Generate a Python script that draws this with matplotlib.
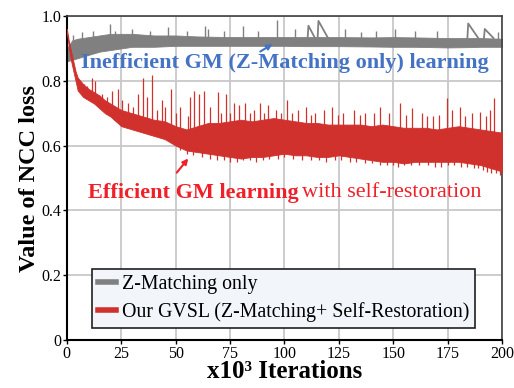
import matplotlib
matplotlib.use("Agg")
import matplotlib.pyplot as plt
from matplotlib.lines import Line2D
import numpy as np

plt.rcParams['font.family'] = ['Liberation Serif', 'DejaVu Serif']

# ---- data (x in 10^3 iterations) ----
# Z-Matching only: core band of the noisy loss curve
gray_x = [0, 2.5, 5, 10, 15, 20, 25, 30, 40, 50, 60, 75, 90, 100, 110, 125,
          140, 150, 160, 175, 185, 190, 200]
gray_lo = [0.86, 0.865, 0.87, 0.88, 0.89, 0.895, 0.90, 0.905, 0.905, 0.908, 0.908,
           0.908, 0.908, 0.908, 0.907, 0.907, 0.906, 0.905, 0.905, 0.903, 0.904,
           0.905, 0.905]
gray_hi = [0.90, 0.925, 0.93, 0.935, 0.94, 0.945, 0.945, 0.945, 0.94, 0.94, 0.937,
           0.935, 0.935, 0.935, 0.935, 0.935, 0.934, 0.935, 0.934, 0.932, 0.932,
           0.932, 0.93]
# sharp peaks above the band
gray_spike_x = [3, 7, 12, 20, 22, 30, 38, 46.7, 55, 63.3, 65, 72, 81, 88, 96.5,
                105, 128, 135, 142, 150.8, 160, 170, 198]
gray_spike_y = [0.94, 0.95, 0.955, 0.975, 0.955, 0.96, 0.955, 0.967, 0.955, 0.97,
                0.96, 0.955, 0.97, 0.955, 0.988, 0.96, 0.96, 0.952,
                0.955, 0.96, 0.955, 0.953, 0.95]
# peaks that relax slowly back to the band (start x, peak, end x)
gray_tail_x0 = [111, 115.6, 184.4, 192]
gray_tail_y0 = [0.97, 0.985, 0.977, 0.96]
gray_tail_x1 = [114, 120, 189, 196]

# GVSL (Z-Matching + Self-Restoration): core band
red_x = [0, 1, 2, 3, 4, 5, 7.5, 10, 12.5, 15, 17.5, 20, 25, 30, 35, 40, 45, 50,
         55, 60, 65, 70, 75, 80, 85, 90, 95, 100, 105, 110, 115, 120, 125, 130,
         135, 140, 145, 150, 155, 160, 165, 170, 175, 180, 185, 190, 195, 200]
red_lo = [0.95, 0.90, 0.86, 0.83, 0.80, 0.77, 0.75, 0.74, 0.73, 0.715, 0.70, 0.69,
          0.66, 0.65, 0.64, 0.63, 0.62, 0.60, 0.585, 0.58, 0.575, 0.57, 0.565,
          0.56, 0.565, 0.565, 0.57, 0.575, 0.57, 0.57, 0.565, 0.565, 0.57, 0.565,
          0.56, 0.555, 0.55, 0.55, 0.545, 0.55, 0.55, 0.55, 0.55, 0.55, 0.545,
          0.54, 0.53, 0.52]
red_hi = [0.96, 0.92, 0.89, 0.86, 0.83, 0.81, 0.79, 0.775, 0.765, 0.755, 0.74, 0.73,
          0.71, 0.70, 0.69, 0.68, 0.675, 0.66, 0.65, 0.66, 0.67, 0.67, 0.675, 0.68,
          0.675, 0.68, 0.685, 0.68, 0.675, 0.67, 0.67, 0.665, 0.665, 0.665, 0.665,
          0.66, 0.665, 0.66, 0.655, 0.655, 0.655, 0.65, 0.655, 0.66, 0.655, 0.65,
          0.645, 0.64]
red_spike_x = [6, 8, 9.5, 11.5, 13, 16, 18.5, 20.7, 23.4, 25.2, 28, 30.5, 32.6,
               35.2, 37, 39, 41.5, 43.7, 45, 47.9, 50, 52, 55.5, 56.6, 58.2, 60.5,
               63, 66, 69.5, 71, 73, 75, 77, 79, 82, 84, 86, 88.7, 90.5, 92.4, 96,
               98.5, 101, 103.5, 106, 110, 112, 114, 118, 122, 124.5, 127, 132, 134.5,
               137, 141, 144, 148, 153, 156, 158.6, 163, 165.5, 168, 171, 174.6, 177,
               180.7, 183, 186, 190, 192.5, 194.5, 196.3, 200]
red_spike_y = [0.80, 0.79, 0.785, 0.81, 0.80, 0.76, 0.75, 0.77, 0.775, 0.74, 0.73,
               0.72, 0.76, 0.81, 0.75, 0.818, 0.71, 0.74, 0.72, 0.775, 0.70, 0.72,
               0.69, 0.75, 0.77, 0.76, 0.77, 0.72, 0.766, 0.70, 0.76, 0.70, 0.73,
               0.725, 0.73, 0.70, 0.71, 0.73, 0.70, 0.725, 0.71, 0.70, 0.74, 0.70,
               0.71, 0.72, 0.695, 0.70, 0.71, 0.72, 0.695, 0.70, 0.71, 0.695, 0.70,
               0.70, 0.72, 0.70, 0.73, 0.695, 0.715, 0.70, 0.69, 0.69, 0.695, 0.746,
               0.71, 0.72, 0.69, 0.70, 0.705, 0.69, 0.71, 0.746, 0.70]
red_dip_x = [52, 55, 58, 62, 66, 69, 72, 75, 78, 81, 84, 87, 90, 93, 97, 100, 104,
             108, 112, 116, 119, 123, 126, 130, 133, 137, 140, 144, 147, 150, 152,
             155, 158, 162, 166, 169, 172, 175, 178, 181, 184, 187, 189, 191, 193,
             195, 197, 199]
red_dip_y = [0.585, 0.575, 0.57, 0.565, 0.56, 0.555, 0.555, 0.55, 0.55, 0.555,
             0.555, 0.55, 0.555, 0.56, 0.56, 0.565, 0.56, 0.555, 0.555, 0.555, 0.55,
             0.555, 0.555, 0.55, 0.55, 0.545, 0.545, 0.54, 0.54, 0.54, 0.535, 0.54,
             0.54, 0.54, 0.54, 0.535, 0.535, 0.54, 0.54, 0.535, 0.535, 0.53, 0.53,
             0.525, 0.52, 0.515, 0.515, 0.51]

x_ticks = [0, 25, 50, 75, 100, 125, 150, 175, 200]
y_ticks = [0, 0.2, 0.4, 0.6, 0.8, 1.0]
y_ticklabels = ['0', '0.2', '0.4', '0.6', '0.8', '1.0']

GRAY = '#808080'
RED = '#d0312d'
BLUE = '#4472c4'
TXT_RED = '#f0202a'

fig = plt.figure(figsize=(5.14, 3.88), dpi=100)
ax = fig.add_axes([0.130, 0.1237, 0.847, 0.835])

# gray curve
ax.fill_between(gray_x, gray_lo, gray_hi, color=GRAY, lw=0.6, zorder=2)
gbase = np.interp(gray_spike_x, gray_x, gray_hi) - 0.005
ax.vlines(gray_spike_x, gbase, gray_spike_y, color=GRAY, lw=1.0, zorder=2)
for x0, y0, x1 in zip(gray_tail_x0, gray_tail_y0, gray_tail_x1):
    ax.plot([x0 - 0.4, x0, x1], [0.93, y0, 0.932], color=GRAY, lw=1.3, zorder=2)

# red curve
ax.fill_between(red_x, red_lo, red_hi, color=RED, lw=0.6, zorder=3)
rtop = np.interp(red_spike_x, red_x, red_hi) - 0.01
ax.vlines(red_spike_x, rtop, red_spike_y, color=RED, lw=0.9, zorder=3)
rbot = np.interp(red_dip_x, red_x, red_lo) + 0.01
ax.vlines(red_dip_x, rbot, red_dip_y, color=RED, lw=0.9, zorder=3)

ax.set_xlim(0, 200)
ax.set_ylim(0, 1.0)
ax.set_xticks(x_ticks)
ax.set_yticks(y_ticks)
ax.set_yticklabels(y_ticklabels)
ax.tick_params(labelsize=11.5, length=3, width=1, pad=1)
ax.grid(True, color='#c8c8c8', lw=1.3)
ax.set_axisbelow(True)
for side in ['left', 'bottom']:
    ax.spines[side].set_linewidth(1.5)
    ax.spines[side].set_color('black')
for side in ['top', 'right']:
    ax.spines[side].set_linewidth(1.2)
    ax.spines[side].set_color('#404040')

ax.set_ylabel('Value of NCC loss', fontsize=17.5, fontweight='bold', labelpad=1)
ax.set_xlabel('x10³ Iterations', fontsize=18, fontweight='bold', labelpad=-1)

# annotations
ax.text(100, 0.855, 'Inefficient GM (Z-Matching only) learning', color=BLUE,
        fontsize=16, fontweight='bold', ha='center', va='center', zorder=5)
ax.annotate('', xy=(95.6, 0.918), xytext=(87.8, 0.886),
            arrowprops=dict(arrowstyle='-|>', color=BLUE, lw=1.5,
                            mutation_scale=8), zorder=5)
t1 = ax.text(9.8, 0.455, 'Efficient GM learning', color=TXT_RED, fontsize=16,
             fontweight='bold', ha='left', va='center', zorder=5)
fig.canvas.draw()
bb = t1.get_window_extent().transformed(ax.transData.inverted())
ax.text(bb.x1 + 1.5, 0.455, 'with self-restoration', color=TXT_RED, fontsize=16,
        ha='left', va='center', zorder=5)
ax.annotate('', xy=(56.6, 0.567), xytext=(49.7, 0.51),
            arrowprops=dict(arrowstyle='-|>', color=TXT_RED, lw=1.5,
                            mutation_scale=8), zorder=5)

handles = [Line2D([], [], color=GRAY, lw=4), Line2D([], [], color=RED, lw=4)]
leg = ax.legend(handles, ['Z-Matching only', 'Our GVSL (Z-Matching+ Self-Restoration)'],
                loc='lower left', bbox_to_anchor=(0.0575, 0.037), borderaxespad=0,
                fontsize=14.3, handlelength=0.9, handletextpad=0.3,
                labelspacing=0.4, borderpad=0.3, fancybox=False, framealpha=1)
leg.get_frame().set_facecolor('#f2f6fb')
leg.get_frame().set_edgecolor('#202020')
leg.get_frame().set_linewidth(1.2)

fig.savefig('out.png', dpi=100)
